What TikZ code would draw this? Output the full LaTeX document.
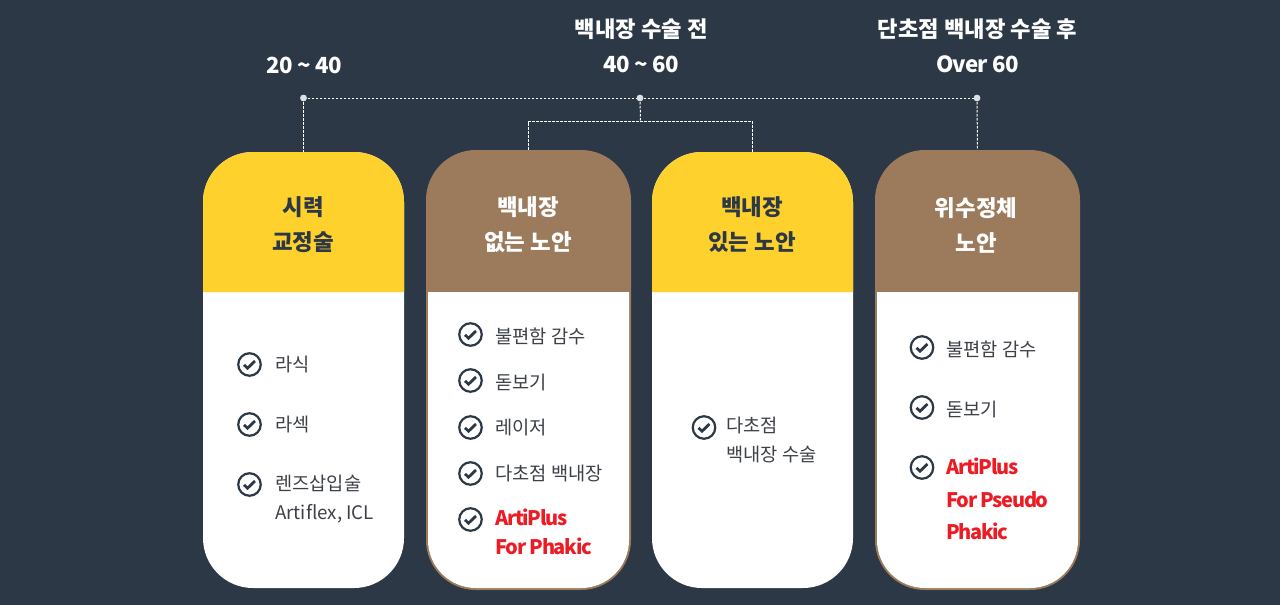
\documentclass[tikz,border=0pt]{standalone}
\usepackage{fontspec}
\setmainfont{Noto Sans CJK KR}
\newcommand{\ltn}[2][-3]{{\addfontfeatures{LetterSpace=#1}#2}}
\definecolor{bgc}{HTML}{2C3845}
\definecolor{yel}{HTML}{FFD12C}
\definecolor{brn}{HTML}{9C7B5C}
\definecolor{txt}{HTML}{3C4047}
\definecolor{redt}{HTML}{ED1C24}
\definecolor{dotc}{HTML}{DDE0E4}
\tikzset{
  x=1pt,y=-1pt,
  cardbox/.style={rectangle,inner sep=0pt,minimum width=#1,rounded corners=50pt},
  toptext/.style={text=white,font=\fontsize{22.2}{35}\selectfont\bfseries,align=center,inner sep=0pt},
  headtext/.style={font=\fontsize{22.4}{35}\selectfont\bfseries,align=center,inner sep=0pt},
  itemtext/.style={text=txt,font=\fontsize{18.7}{29}\selectfont,align=left,anchor=west,inner sep=0pt},
  redtext/.style={text=redt,font=\fontsize{20}{#1}\selectfont\bfseries\addfontfeatures{LetterSpace=-6.5},align=left,anchor=west,inner sep=0pt},
  dotnode/.style={circle,fill=dotc,inner sep=0pt,minimum size=6.5pt},
  link/.style={draw=white,line width=1pt,dash pattern=on 2.5pt off 1.5pt},
  checkicon/.style={circle,draw=bgc,line width=2.2pt,inner sep=0pt,minimum size=22.5pt,
    path picture={\draw[bgc,line width=2.8pt] ([shift={(-5.5pt,-0.3pt)}]path picture bounding box.center) -- ([shift={(-2pt,-3.7pt)}]path picture bounding box.center) -- ([shift={(5.5pt,3.5pt)}]path picture bounding box.center);}}
}
\begin{document}
\begin{tikzpicture}
\useasboundingbox (0,0) rectangle (1280,605);
\fill[bgc] (0,0) rectangle (1280,605);

% cards
\node[cardbox=201pt,minimum height=436pt,fill=white] (c1) at (303.5,370) {};
\fill[yel] (203,292) [rounded corners=50pt] -- (203,152) -- (404,152) [sharp corners] -- (404,292) -- cycle;

\node[cardbox=205pt,minimum height=440pt,fill=brn] (c2) at (528.5,370) {};
\fill[white] (428,292) [rounded corners=48pt] -- (428,588) -- (629,588) [sharp corners] -- (629,292) -- cycle;

\node[cardbox=201pt,minimum height=436pt,fill=white] (c3) at (752.5,370) {};
\fill[yel] (652,292) [rounded corners=50pt] -- (652,152) -- (853,152) [sharp corners] -- (853,292) -- cycle;

\node[cardbox=205pt,minimum height=440pt,fill=brn] (c4) at (977.5,370) {};
\fill[white] (877,292) [rounded corners=48pt] -- (877,588) -- (1078,588) [sharp corners] -- (1078,292) -- cycle;

% connectors
\node[dotnode] (d1) at (303.5,98) {};
\node[dotnode] (d2) at (640,98) {};
\node[dotnode] (d3) at (977,98) {};
\coordinate (j) at (640.5,121.5);
\draw[link] (d1.center) -- (d2.center) -- (d3.center);
\draw[link] (d1.center) -- (c1.north);
\draw[link] (d3.center) -- (c4.north);
\draw[link] (d2.center) -- (j);
\draw[link] (c2.north) |- (j);
\draw[link] (c3.north) |- (j);
\node[dotnode] at (d1) {};
\node[dotnode] at (d2) {};
\node[dotnode] at (d3) {};

% top labels
\node[toptext] (l1) at (304,65.5) {\ltn{20 \textasciitilde{} 40}};
\node[toptext] (l2) at (641.3,46) {백내장 수술 전\\\ltn{40 \textasciitilde{} 60}};
\node[toptext] (l3) at (977.5,46) {단초점 백내장 수술 후\\\ltn{Over 60}};

% heads
\node[headtext,text=bgc] (h1) at (303,225) {시력\\교정술};
\node[headtext,text=white] (h2) at (528,225) {백내장\\없는 노안};
\node[headtext,text=bgc] (h3) at (752,225) {백내장\\있는 노안};
\node[headtext,text=white] (h4) at (976,225) {위수정체\\노안};

% card 1
\node[checkicon] (i11) at (249.5,364.5) {};
\node[itemtext] (t11) at (275,365) {라식};
\node[checkicon] (i12) at (249.5,424.5) {};
\node[itemtext] (t12) at (275,425) {라섹};
\node[checkicon] (i13) at (249.5,484.5) {};
\node[itemtext] (t13) at (275,499) {렌즈삽입술\\Artiflex, ICL};

% card 2
\node[checkicon] (i21) at (470.5,334.5) {};
\node[itemtext] (t21) at (495,336) {불편함 감수};
\node[checkicon] (i22) at (470.5,380.5) {};
\node[itemtext] (t22) at (495,382) {돋보기};
\node[checkicon] (i23) at (470.5,427.5) {};
\node[itemtext] (t23) at (495,428) {레이저};
\node[checkicon] (i24) at (470.5,473.5) {};
\node[itemtext] (t24) at (495,474) {다초점 백내장};
\node[checkicon] (i25) at (470.5,519.5) {};
\node[redtext=29] (t25) at (495,532) {ArtiPlus\\For Phakic};

% card 3
\node[checkicon] (i31) at (704,427.5) {};
\node[itemtext] (t31) at (726,440) {다초점\\백내장 수술};

% card 4
\node[checkicon] (i41) at (922,347.5) {};
\node[itemtext] (t41) at (946,349) {불편함 감수};
\node[checkicon] (i42) at (922,407.5) {};
\node[itemtext] (t42) at (946,409) {돋보기};
\node[checkicon] (i43) at (922,467.5) {};
\node[redtext=32.5] (t43) at (946,499) {ArtiPlus\\For Pseudo\\Phakic};
\end{tikzpicture}
\end{document}
